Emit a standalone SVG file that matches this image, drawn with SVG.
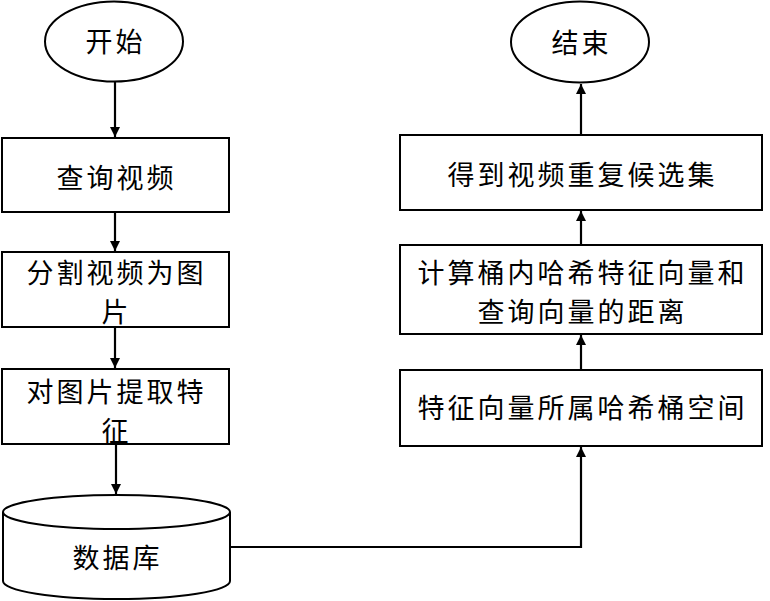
<svg xmlns="http://www.w3.org/2000/svg" width="770" height="601" viewBox="0 0 770 601">
<defs>
<style>
.s{fill:#fff;stroke:#000;stroke-width:2}
.t{font-family:"Noto Sans CJK SC","Noto Sans CJK JP",sans-serif;font-size:27px;letter-spacing:3px;fill:#000;text-anchor:middle;dominant-baseline:central}
.c{fill:none;stroke:#000;stroke-width:2.2}
</style>
<marker id="ah" viewBox="0 0 10 10" refX="10" refY="5" markerWidth="11" markerHeight="10" markerUnits="userSpaceOnUse" orient="auto">
<path d="M0,0 L10,5 L0,10 z" fill="#000"/>
</marker>
</defs>
<rect width="770" height="601" fill="#fff"/>
<g id="connectors">
<path class="c" d="M115,82 V137" marker-end="url(#ah)"/>
<path class="c" d="M115,212 V251" marker-end="url(#ah)"/>
<path class="c" d="M115,327 V368" marker-end="url(#ah)"/>
<path class="c" d="M116,444 V494" marker-end="url(#ah)"/>
<path class="c" d="M230,547 H581 V447" marker-end="url(#ah)"/>
<path class="c" d="M581,370 V335" marker-end="url(#ah)"/>
<path class="c" d="M581,245 V211" marker-end="url(#ah)"/>
<path class="c" d="M581,135 V84" marker-end="url(#ah)"/>
</g>
<g id="start">
<ellipse class="s" cx="114" cy="41.5" rx="69" ry="40"/>
<text class="t" x="115.5" y="40">开始</text>
</g>
<g id="query">
<rect class="s" x="2" y="138" width="227" height="74"/>
<text class="t" x="116.5" y="176">查询视频</text>
</g>
<g id="split">
<rect class="s" x="2" y="252" width="227" height="75"/>
<text class="t" x="116.5" y="271">分割视频为图</text>
<text class="t" x="116.5" y="310">片</text>
</g>
<g id="extract">
<rect class="s" x="2" y="369" width="227" height="75"/>
<text class="t" x="116.5" y="390">对图片提取特</text>
<text class="t" x="116.5" y="429">征</text>
</g>
<g id="database">
<path class="s" d="M3,512 V581 A113.5,18 0 0 0 230,581 V512"/>
<ellipse class="s" cx="116.5" cy="512" rx="113.5" ry="17"/>
<text class="t" x="117.5" y="556">数据库</text>
</g>
<g id="bucket">
<rect class="s" x="400" y="370" width="362" height="76"/>
<text class="t" x="582.5" y="406">特征向量所属哈希桶空间</text>
</g>
<g id="distance">
<rect class="s" x="400" y="245" width="362" height="89"/>
<text class="t" x="582.5" y="271">计算桶内哈希特征向量和</text>
<text class="t" x="582.5" y="310">查询向量的距离</text>
</g>
<g id="result">
<rect class="s" x="400" y="135" width="362" height="75"/>
<text class="t" x="582.5" y="173">得到视频重复候选集</text>
</g>
<g id="end">
<ellipse class="s" cx="580" cy="42" rx="69" ry="40.5"/>
<text class="t" x="581.5" y="41">结束</text>
</g>
</svg>
